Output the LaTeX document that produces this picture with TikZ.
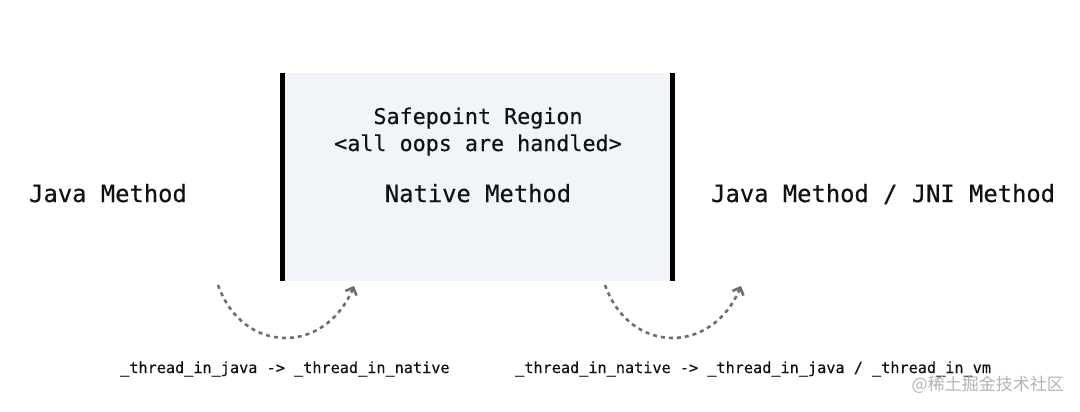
\documentclass[tikz,border=0pt]{standalone}
\usepackage{fontspec}
\setmonofont{DejaVu Sans Mono}
\newfontfamily\heavymono[FakeBold=0.35]{DejaVu Sans Mono}
\newfontfamily\cjk{Noto Sans CJK SC}
\usetikzlibrary{arrows.meta}
\definecolor{boxfill}{HTML}{F1F5F9}
\definecolor{txt}{HTML}{111111}
\definecolor{arr}{HTML}{6E6E6E}
\definecolor{wm}{HTML}{B4B4B4}
\tikzset{
  bigtxt/.style={anchor=base, inner sep=0pt, text=txt, font=\heavymono\fontsize{23.8}{28}\selectfont},
  midtxt/.style={anchor=base, inner sep=0pt, text=txt, font=\heavymono\fontsize{21.7}{26}\selectfont},
  smalltxt/.style={anchor=base west, inner sep=0pt, text=txt, font=\heavymono\fontsize{15.2}{18}\selectfont},
  bar/.style={line width=5pt, black},
  transition/.style={arr, line width=2.6pt, dash pattern=on 4pt off 4pt, -{Straight Barb[length=6pt,width=12pt,line width=2.6pt]}},
}
\begin{document}
\begin{tikzpicture}[x=1pt,y=-1pt]
\useasboundingbox (0,0) rectangle (1080,412);
\fill[white] (0,0) rectangle (1080,412);
% region
\node[fill=boxfill, minimum width=389pt, minimum height=208pt, inner sep=0pt, draw=none] (region) at (477.5,177) {};
\draw[bar] (region.north west) -- (region.south west);
\draw[bar] (region.north east) -- (region.south east);
\node[midtxt] (sp) at (478,124) {Safepoint Region};
\node[midtxt] (oops) at (478,151) {<all oops are handled>};
\node[bigtxt] (native) at (478,202) {Native Method};
\node[bigtxt, anchor=base west] (java) at (29,202) {Java Method};
\node[bigtxt, anchor=base west] (jni) at (711,202) {Java Method / JNI Method};
% transitions
\coordinate (a1s) at (218,285);
\coordinate (a1e) at (354,286);
\coordinate (a2s) at (605,285);
\coordinate (a2e) at (741,286);
\draw[transition] (a1s) .. controls (243,355) and (325,355) .. (a1e);
\draw[transition] (a2s) .. controls (630,355) and (712,355) .. (a2e);
\node[smalltxt] (t1) at (120,373) {\_thread\_in\_java -> \_thread\_in\_native};
\node[smalltxt] (t2) at (515,373) {\_thread\_in\_native -> \_thread\_in\_java / \_thread\_in\_vm};
\node[anchor=base east, inner sep=0pt, text=wm, font=\cjk\fontsize{17}{20}\selectfont] (wmark) at (1064,390) {@稀土掘金技术社区};
\end{tikzpicture}
\end{document}
